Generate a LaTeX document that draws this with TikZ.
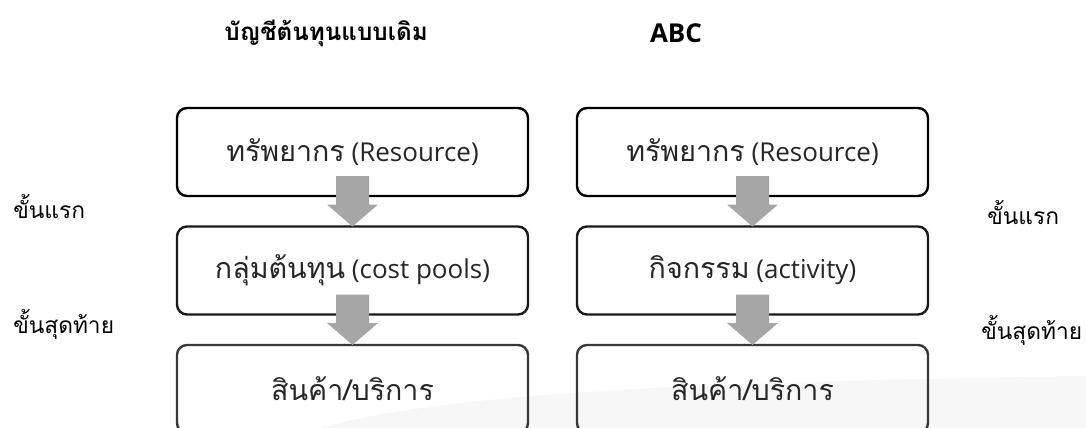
\documentclass[tikz,border=0pt]{standalone}
\usepackage{fontspec}
\setmainfont{Open Sans}
\newfontfamily\thai[Script=Thai,Scale=1.1]{Loma}
\usetikzlibrary{calc}
\tikzset{
  box/.style={draw=#1, line width=1.8pt, rounded corners=7.5pt, minimum width=263.25pt,
    minimum height=66pt, inner sep=0pt, outer sep=0pt, text=black!85,
    font=\fontsize{19.5}{24}\selectfont},
  box/.default=black,
  arrfill/.style={fill=black!35},
  heading/.style={font=\fontsize{19.5}{24}\selectfont\bfseries, text=black, inner sep=0pt},
  side/.style={font=\thai\fontsize{15.5}{20}\selectfont, text=black, anchor=base west, inner sep=0pt}
}
\newcommand{\blockarr}[2]{%
  \fill[arrfill] ($(#1.south)+(-16.5,-20)$) -- ($(#1.south)+(16.5,-20)$)
    -- ($(#2.north)+(16.5,-22)$) -- ($(#2.north)+(25.5,-22)$) -- (#2.north)
    -- ($(#2.north)+(-25.5,-22)$) -- ($(#2.north)+(-16.5,-22)$) -- cycle;}
\begin{document}
\begin{tikzpicture}[x=0.75pt,y=-0.75pt]
\fill[white] (0,0) rectangle (1086,428);
\clip (0,0) rectangle (1086,428);
\fill[black!3] (320,428) .. controls (450,392) and (700,382) .. (1086,376) -- (1086,428) -- cycle;
% headings
\node[heading] (h1) at (326,33) {\thai\fontsize{16.5}{22}\selectfont บัญชีต้นทุนแบบเดิม};
\node[heading] (h2) at (676,33) {ABC};
% left column
\node[box] (l1) at (352.5,152) {{\thai ทรัพยากร} (Resource)};
\node[box=black!90] (l2) at (352.5,270.5) {{\thai กลุ่มต้นทุน} (cost pools)};
\node[box=black!78] (l3) at (352.5,389) {\thai สินค้า/บริการ};
% right column
\node[box] (r1) at (752.5,152) {{\thai ทรัพยากร} (Resource)};
\node[box=black!90] (r2) at (752.5,270.5) {{\thai กิจกรรม} (activity)};
\node[box=black!78] (r3) at (752.5,389) {\thai สินค้า/บริการ};
% arrows
\blockarr{l1}{l2}
\blockarr{l2}{l3}
\blockarr{r1}{r2}
\blockarr{r2}{r3}
% side labels
\node[side] (s1) at (13,218) {ขั้นแรก};
\node[side] (s2) at (13,333) {ขั้นสุดท้าย};
\node[side] (s3) at (987,224) {ขั้นแรก};
\node[side] (s4) at (981,339) {ขั้นสุดท้าย};
\end{tikzpicture}
\end{document}
